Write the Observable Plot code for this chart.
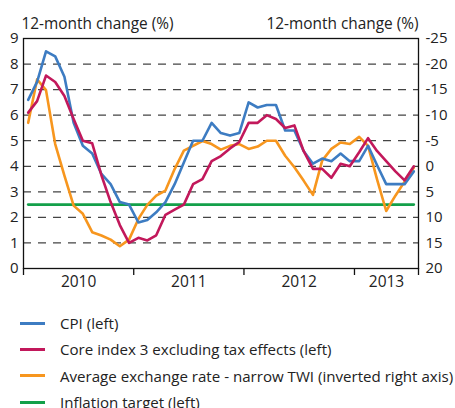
<!DOCTYPE html>
<html><head><meta charset="utf-8">
<script src="https://cdn.jsdelivr.net/npm/d3@7"></script>
<script src="https://cdn.jsdelivr.net/npm/@observablehq/plot@0.6"></script>
<style>
body{margin:0;background:#fff;font-family:"Open Sans",sans-serif;}
#legend{padding-top:10px}
.item{display:flex;align-items:center;height:26.3px;font-size:15.1px;color:#222;white-space:nowrap}
.sw{width:25px;height:3px;margin-left:20px;margin-right:15px;flex:none}
</style></head><body>
<div id="chart"></div><div id="legend"></div>
<script>
// Monthly data, Jan 2010 - Jul 2013
const firstYear = 2010;
const cpi  = [6.6,7.3,8.5,8.3,7.5,5.7,4.8,4.5,3.7,3.3,2.6,2.5,1.8,1.9,2.2,2.6,3.3,4.15,5.0,5.0,5.7,5.3,5.2,5.3,6.5,6.3,6.4,6.4,5.4,5.4,4.6,4.1,4.3,4.2,4.5,4.2,4.2,4.8,4.05,3.3,3.3,3.3,3.8];
const core = [6.1,6.55,7.55,7.3,6.75,5.85,5.0,4.9,3.65,2.6,1.7,1.0,1.2,1.1,1.3,2.1,2.3,2.5,3.3,3.5,4.2,4.4,4.7,4.95,5.7,5.7,6.0,5.85,5.5,5.6,4.6,3.9,3.9,3.55,4.1,4.0,4.55,5.1,4.6,4.2,3.8,3.45,4.0];
// Average exchange rate (narrow TWI), inverted right axis values
const twi  = [-8.5,-17,-14.9,-4.35,1.85,7.7,9.3,12.9,13.55,14.35,15.65,14.35,10.3,7.55,5.75,4.75,0.55,-3.05,-4.0,-4.95,-4.35,-3.25,-4.0,-4.35,-3.4,-3.85,-5.0,-5.0,-2.05,0.2,2.8,5.6,-1.1,-3.4,-4.65,-4.35,-5.75,-4.0,2.5,8.75,5.75,3.0,0.25];
const inflationTarget = 2.5;
const years = [2010, 2011, 2012, 2013];
const leftTicks = [0,1,2,3,4,5,6,7,8,9];
const gridValues = [1,2,3,4,5,6,7,8];
const seriesNames = ["CPI (left)","Core index 3 excluding tax effects (left)","Average exchange rate - narrow TWI (inverted right axis)","Inflation target (left)"];
const seriesColors = ["#3d7cc2","#c2185b","#f7961e","#13a04a"];
const axisTitle = "12-month change (%)";

// right axis: r -> left-scale value
const toLeft = r => 4 - r / 5;
const toRight = l => 20 - 5 * l;

const start = new Date(Date.UTC(firstYear, 0, 1));
const months = cpi.map((_, i) => d3.utcMonth.offset(start, i));
const midOf = d => new Date((+d + +d3.utcMonth.offset(d, 1)) / 2);
const rows = months.map((m, i) => ({date: midOf(m), cpi: cpi[i], core: core[i], twi: toLeft(twi[i]), target: inflationTarget}));
const xDomain = [start, d3.utcMonth.offset(months[months.length - 1], 1)];
const yearRows = years.map(y => {
  const s = new Date(Date.UTC(y, 0, 1));
  const e = new Date(Math.min(+new Date(Date.UTC(y + 1, 0, 1)), +xDomain[1]));
  return {year: String(y), start: s, mid: new Date((+s + +e) / 2)};
});
const xTicks = [...yearRows.map(d => d.start), xDomain[1]];

const chart = Plot.plot({
  width: 455, height: 300,
  marginLeft: 23, marginRight: 37, marginTop: 38, marginBottom: 32,
  style: {fontFamily: "Open Sans", fontSize: "15px", color: "#222", background: "white", overflow: "visible"},
  x: {type: "utc", domain: xDomain},
  y: {domain: [0, 9]},
  marks: [
    Plot.ruleY(gridValues, {stroke: "#444", strokeWidth: 1.3, strokeDasharray: "8,7"}),
    Plot.lineY(rows, {x: "date", y: "target", stroke: seriesColors[3], strokeWidth: 2.6}),
    Plot.lineY(rows, {x: "date", y: "twi", stroke: seriesColors[2], strokeWidth: 2.6}),
    Plot.lineY(rows, {x: "date", y: "cpi", stroke: seriesColors[0], strokeWidth: 2.6}),
    Plot.lineY(rows, {x: "date", y: "core", stroke: seriesColors[1], strokeWidth: 2.6}),
    Plot.frame({stroke: "#111", strokeWidth: 1.3}),
    Plot.axisY(leftTicks, {anchor: "left", tickSize: 0, tickPadding: 5, label: null, fontSize: 15}),
    Plot.axisY(leftTicks, {anchor: "right", tickSize: 0, tickPadding: 7, tickFormat: d => String(toRight(d)), label: null, fontSize: 15}),
    Plot.axisX(xTicks, {tickSize: 7, tickFormat: () => "", label: null, stroke: "#111", strokeWidth: 1.3}),
    Plot.text(yearRows, {x: "mid", text: "year", frameAnchor: "bottom", lineAnchor: "top", dy: 7, fontSize: 15.5}),
    Plot.text([axisTitle], {text: d => d, frameAnchor: "top-left", textAnchor: "start", lineAnchor: "bottom", dy: -10, dx: -2, fontSize: 15.4}),
    Plot.text([axisTitle], {text: d => d, frameAnchor: "top-right", textAnchor: "end", lineAnchor: "bottom", dy: -10, dx: 0, fontSize: 15.4})
  ]
});
document.getElementById("chart").appendChild(chart);

const legend = document.getElementById("legend");
seriesNames.forEach((name, i) => {
  const item = document.createElement("div");
  item.className = "item";
  const sw = document.createElement("span");
  sw.className = "sw";
  sw.style.background = seriesColors[i];
  const label = document.createElement("span");
  label.textContent = name;
  item.appendChild(sw); item.appendChild(label);
  legend.appendChild(item);
});
</script>
</body></html>
